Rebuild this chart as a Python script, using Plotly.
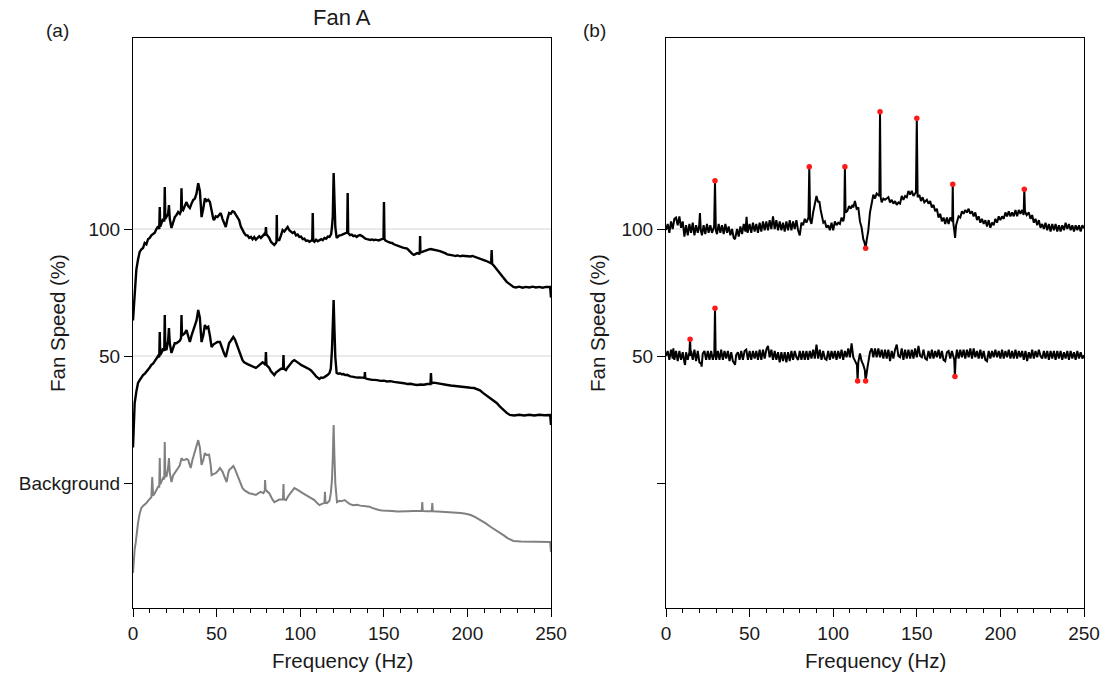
import plotly.graph_objects as go

# ---------------- data (frequency Hz, plotted value) ----------------
FAN100 = [
    (0, 64), (0.5, 70), (1, 76), (2, 84), (3, 88), (4, 91), (5, 92), (6, 92.5), (7, 94.5), (8, 94),
    (9, 96), (10, 96.5), (11, 97.5), (12, 98), (13, 98.5), (14, 100), (15, 101), (15.7, 100), (16, 108.7),
    (16.3, 101), (17, 102), (18, 104), (18.7, 103), (19, 116.5), (19.3, 104), (20, 104.7), (21, 106),
    (21.5, 109.4), (22, 104), (23, 100.4), (24, 103), (25, 104.7), (26, 105.5), (27, 106.7), (28, 106),
    (28.7, 107), (29, 116), (29.3, 108), (30, 107.5), (31, 109), (32, 110.6), (33, 109), (34, 108.3),
    (35, 110), (36, 111.4), (37, 112), (38, 114), (39, 118), (40, 115), (40.5, 110), (41, 104.7),
    (42, 108), (43, 112), (44, 111), (45, 111.5), (46, 110.6), (47, 107), (48, 104), (48.5, 103.5),
    (49.5, 105), (50.5, 104.7), (51.5, 105.5), (52.5, 106.3), (53.5, 104), (54.5, 102), (55.5, 100.8),
    (56.5, 104), (57.5, 106.3), (58.5, 106), (59.5, 107), (60.5, 106.7), (61.5, 105.5), (62.5, 104.5),
    (63.5, 103.5), (64.5, 101), (65.5, 99.5), (66.5, 98.4), (67.5, 97.5), (68.5, 97.5), (69.5, 96.5),
    (70.5, 96.9), (71.5, 96), (72.5, 96.8), (73.5, 95.8), (74.5, 96.5), (75.5, 97.2), (76.5, 96.5),
    (77.5, 97.2), (78.5, 98), (79.2, 97.5), (79.5, 100.8), (79.8, 98), (80.5, 97.5), (81.5, 96.5),
    (82.5, 95), (83.5, 94.5), (84.5, 93.7), (85.5, 94.5), (85.8, 95), (86, 105.5), (86.2, 95.5),
    (87, 95.7), (87.5, 95.7), (88.5, 97.5), (89.5, 99.6), (90.5, 99), (91.5, 100), (92.5, 100.8),
    (93.5, 99.5), (94.5, 99), (95.5, 98.4), (96.5, 98.8), (97.5, 97.5), (98.5, 97.8), (99.5, 96.9),
    (100.5, 97), (101.5, 96), (102.5, 96.2), (103.5, 95.3), (104.5, 95.5), (105.5, 95), (106.5, 95.4),
    (107.2, 95.5), (107.5, 106.3), (107.8, 95.4), (108.5, 95), (109.5, 95.8), (110.5, 95.2), (111.5, 95.7),
    (112.5, 96), (113.5, 95.6), (114.5, 96.5), (115.5, 96.2), (116.5, 97), (117.5, 96.9), (118.5, 98),
    (119, 100.8), (119.5, 105), (120, 122), (120.5, 106), (121, 100.8), (121.8, 96.5), (122.5, 97),
    (123.5, 97.5), (124.5, 97.6), (125.5, 98), (126.5, 98.2), (127.5, 98.5), (128.1, 98.6), (128.4, 114.2),
    (128.7, 98.4), (129.8, 97.6), (130.8, 97.8), (131.8, 97.2), (132.8, 97.4), (133.8, 96.9), (134.8, 97.4),
    (135.8, 97.6), (137, 97.2), (138, 96.5), (139, 96.2), (140, 96), (141, 95.8), (142, 95.7), (143, 95.9),
    (144, 95.6), (145, 95.8), (146, 95.7), (147, 95.5), (148, 95.8), (149, 96), (149.8, 96.2),
    (150.1, 110.6), (150.4, 96), (151, 95.5), (152, 95), (153, 94.8), (154, 94.6), (155, 94.5), (156, 94),
    (157, 93.7), (158, 93.5), (159, 93.2), (160, 93), (161, 92.8), (162, 92.6), (163, 92.5), (164, 92.3),
    (165, 91.6), (166, 90.8), (167, 90.2), (168, 89.8), (169, 90.2), (170, 90.5), (171, 90.3),
    (171.5, 90.4), (171.7, 97.2), (171.9, 90.8), (173, 91), (174, 91.3), (175, 91.7), (176, 91.9),
    (177, 92), (178, 92.1), (179, 92), (180, 92), (181, 91.8), (182, 91.6), (183, 91.4), (184, 91.2),
    (185, 91), (186, 90.8), (187, 90.4), (188, 90), (189, 89.8), (190, 89.6), (191, 89.4), (192, 89.5),
    (193, 89.4), (194, 89.6), (195, 89.4), (196, 89.3), (197, 89.5), (198, 89.4), (199, 89.5),
    (200, 89.3), (201, 89.4), (202, 89.2), (203, 89.4), (204, 89.2), (205, 89), (206, 88.8), (207, 88.6),
    (208, 88.4), (209, 88.2), (210, 87.8), (211, 87.5), (212, 87.2), (213, 87), (214.2, 86.5),
    (214.5, 91.7), (214.8, 86.3), (215.5, 85.8), (216.5, 85), (217.5, 84), (218.5, 83), (219.5, 82.3),
    (220.5, 81.5), (221.5, 80.7), (222.5, 80), (223.5, 79.2), (224.5, 78.7), (225.5, 78.2), (226.5, 77.7),
    (227.5, 77.2), (229, 77), (231, 77.3), (233, 76.9), (235, 77.2), (237, 77), (239, 77.3), (241, 77),
    (243, 77.2), (245, 76.9), (247, 77.2), (249.5, 77.2), (250, 73),
]

FAN50 = [
    (0, 14), (0.5, 22), (1, 31.5), (2, 36), (3, 39.4), (4, 40.5), (5, 41.7), (6, 42.5), (7, 43), (8, 43.7),
    (9, 44.5), (10, 45.5), (11, 46.5), (12, 47), (13, 48), (14, 49.2), (15, 50), (15.7, 49.5), (16, 59.4),
    (16.3, 50.5), (17, 51.2), (18, 53), (18.7, 52), (19, 66.1), (19.3, 53), (20, 52.4), (21, 56),
    (21.5, 61), (22, 55), (23, 51.2), (24, 53.5), (25, 55.1), (26, 55), (27, 55.5), (28, 56), (28.7, 57),
    (29, 66.1), (29.3, 58), (30, 58.3), (31, 59), (32, 60.2), (33, 58), (34, 55.5), (35, 58), (36, 60.2),
    (37, 62), (38, 64), (39, 68.1), (40, 65), (40.5, 60), (41, 55.5), (42, 58), (43, 62.2), (44, 61),
    (45, 61.5), (46, 58), (47, 53.5), (48, 54.5), (49.5, 55.1), (50.5, 55.5), (52, 55.5), (53.5, 52.4),
    (54.5, 51), (55.5, 49.6), (56.5, 53), (57.5, 55.1), (58.5, 56), (60, 57.5), (61, 56.5), (62.5, 53.5),
    (63.5, 51.5), (64.5, 49.5), (65.5, 48.4), (66.5, 47.5), (67.5, 47), (68.5, 46.8), (69.5, 46.5),
    (70.5, 46.2), (71.5, 45.8), (72.5, 45.5), (73.5, 45.3), (74.5, 45.8), (75.5, 46.5), (76.5, 47.2),
    (77.5, 47.5), (78.5, 47), (79.2, 46.5), (79.5, 51.6), (79.8, 46.5), (80.5, 46), (81.5, 45.3),
    (82.5, 44), (83.5, 43), (84.5, 42.5), (85.5, 43.5), (86.5, 44), (87.5, 44.5), (88.5, 45), (89.7, 45),
    (90, 50.4), (90.3, 45), (91.5, 44.5), (92.5, 45.5), (93.5, 46.5), (94.5, 47.5), (95.5, 48),
    (96.5, 48.4), (97.5, 47.8), (98.5, 47.2), (99.5, 47), (100.5, 46.5), (101.5, 46.2), (102.5, 45.8),
    (103.5, 45.6), (104.5, 45.3), (105.5, 44.8), (106.5, 44.3), (107.5, 43.7), (108.5, 42.8), (109.5, 42),
    (110.5, 41.3), (111.5, 41), (112.5, 41.5), (113.5, 41.4), (114.5, 41.7), (115.5, 42), (116.5, 42.6),
    (117.5, 43.3), (118.3, 45), (119, 52.4), (119.5, 60), (120, 72), (120.5, 60), (121, 49.6),
    (121.8, 43.3), (122.8, 43), (123.8, 43.2), (124.8, 42.8), (125.8, 42.9), (127, 42.5), (128, 42.6),
    (129, 42.2), (130, 42), (131, 41.9), (132, 41.7), (133, 41.8), (134, 41.5), (135, 41.6), (136, 41.4),
    (137, 41.5), (138.5, 41.4), (138.7, 43.7), (138.9, 41.3), (140, 41), (141, 40.8), (142, 40.7),
    (143, 40.6), (144, 40.6), (145, 40.4), (146, 40.5), (148, 40.2), (150, 40.3), (152, 40), (154, 40.1),
    (156, 39.8), (158, 39.7), (160, 39.4), (162, 39.3), (164, 39), (166, 39.1), (168, 38.8), (170, 38.6),
    (172, 38.8), (174, 38.7), (176, 39), (177.9, 39), (178.2, 43.3), (178.5, 39.2), (180, 39.5),
    (182, 39.2), (184, 39), (186, 38.8), (188, 38.6), (190, 38.4), (192, 38.2), (194, 38), (196, 37.8),
    (198, 37.7), (200, 37.6), (202, 37.5), (204, 37.4), (206, 37), (207.5, 36.5), (209.5, 35.4),
    (211.5, 34.4), (213.5, 33.5), (215.5, 32.5), (217.5, 31.5), (219.5, 30.1), (221.5, 28.7),
    (223.5, 27.6), (225.4, 26.8), (228, 26.6), (231, 26.9), (234, 26.6), (237, 26.9), (240, 26.6),
    (243, 26.9), (246, 26.7), (249.5, 26.8), (250, 22.8),
]

BACKGROUND = [
    (0, -35.4), (0.5, -30), (1, -26), (1.6, -23.6), (2.3, -19), (3, -15.7), (4, -12), (5, -9.8), (6, -9),
    (7, -8.5), (8, -7.9), (9, -7), (10, -6), (11, -5.5), (11.5, 2.4), (12, -5), (13, -4), (14, -2.5),
    (15, -1.5), (15.7, -1.5), (16, 9.8), (16.3, -0.5), (17, 0.4), (18, 2), (18.7, 1.5), (19, 16.1),
    (19.3, 3), (20, 2.4), (21, 6), (21.5, 9.8), (22, 4), (23, 0.4), (24, 3), (25, 4.3), (26, 5), (27, 5.9),
    (28, 7), (29, 9.8), (30, 9), (31, 9.1), (32, 9.5), (33, 9.1), (34.5, 5.9), (35.5, 9), (36.5, 11),
    (37.5, 13), (38.5, 15), (39, 16.9), (40, 14), (40.5, 10), (41, 7.1), (42, 9), (43, 11.8), (44, 11),
    (45.5, 11.2), (46.5, 7), (47, 3.1), (48, 3.5), (49.5, 3.9), (51, 5), (52, 5.9), (53.5, 4.5), (55, 2),
    (56, 0.4), (57, 4), (57.5, 5.1), (59, 6), (60, 6.7), (61, 5.5), (62.5, 3.1), (64, 0.5), (65.5, -2),
    (67, -3), (69.5, -4), (71.5, -4.3), (73.5, -4.7), (75, -4), (76.5, -3.5), (78, -4), (78.8, -3),
    (79, 1.2), (79.3, -2.5), (80.5, -3.5), (81.5, -4), (83, -6), (84.5, -7.5), (86, -7), (87.5, -6.5),
    (89.7, -6.5), (90, -0.4), (90.3, -6.5), (91.5, -6.7), (93, -5), (95, -3), (96.5, -2), (98, -2.5),
    (100, -3.5), (101.5, -4), (103.5, -4.8), (105.5, -5.5), (107, -6), (108.5, -6.7), (110, -7.8),
    (111.5, -8.7), (113, -8.2), (114.5, -7.9), (114.8, -3.5), (115.1, -7.8), (116, -7.9), (117.5, -7),
    (118.3, -4), (119, 1.2), (119.5, 10), (120, 22.8), (120.5, 10), (121, 0), (122, -7.5), (123.5, -7),
    (124.5, -7.2), (126.6, -6.7), (128, -7.5), (129.5, -8.2), (131.6, -8.7), (134, -8.6), (136, -8.9),
    (138, -9), (139.5, -9.1), (141.5, -9.3), (143, -9.8), (144.5, -10.2), (147, -10.6), (149, -10.8),
    (151.5, -11), (155, -11), (158, -11.2), (161.5, -11), (164, -11.1), (167.5, -11), (170, -11.1),
    (172.7, -11), (173, -7.5), (173.3, -11), (176, -11.1), (178.7, -11), (179, -7.9), (179.3, -11.1),
    (182, -11.2), (185, -11.3), (188, -11.4), (192, -11.6), (196, -11.8), (199, -12.1), (202, -12.6),
    (205, -13.5), (208, -14.6), (211, -15.9), (214, -17.3), (217, -18.5), (220, -19.7), (222, -20.7),
    (224, -21.7), (226, -22.4), (227.5, -22.8), (232, -23), (236, -23.1), (240, -23), (245, -23.1),
    (249.5, -23.2), (250, -27.2),
]

DIFF100 = [
    (0, 99.6), (1, 102), (2, 98.5), (3, 103), (4, 100), (5, 104), (6, 104.5), (7, 101.5), (8, 105),
    (9, 100.5), (10, 103), (11, 97), (12, 101.5), (13, 97.5), (14, 102), (15, 98.5), (16, 102.5),
    (17, 97.5), (18, 101.5), (19, 98.5), (19.8, 101), (20.3, 106.3), (20.8, 99.5), (21.5, 97.5),
    (22.5, 101.5), (23.5, 98), (24.5, 102), (25.5, 98.5), (26.5, 101.5), (27.5, 98.5), (28.8, 101),
    (29.3, 119), (29.8, 99.5), (30.5, 98), (31.5, 102), (32.5, 98.5), (33.5, 101.5), (34.5, 98),
    (35.5, 102), (36.5, 98.5), (37.5, 101), (38.5, 97.5), (39.5, 100), (40.5, 96.5), (41.3, 96),
    (42.5, 100), (43.5, 97), (44.5, 101), (45.5, 98), (46.5, 102), (47.5, 99), (48.2, 104.8), (48.8, 98.5),
    (50, 102), (51, 98.5), (52, 102.5), (53, 99), (54, 102), (55, 98.5), (56, 102.5), (57, 99), (58, 103),
    (59, 99.5), (60, 103), (61, 99.5), (62, 103.5), (63, 100), (64, 105), (65, 100), (66, 103.5),
    (67, 99.5), (68, 103), (69, 99.5), (70, 102.5), (71, 99), (72, 103), (73, 99.5), (74, 103.5),
    (75, 99.5), (76, 103), (77, 100), (78, 103.5), (79, 99.5), (80, 97.5), (81, 102.5), (82, 101.5),
    (83, 104), (84, 102.5), (85.2, 104.5), (85.7, 124.5), (86.2, 103.5), (87, 102), (88, 106.5),
    (89, 110), (90, 113), (91, 110.5), (91.7, 111), (92.5, 107.5), (93.3, 105.5), (94.1, 102.5),
    (95, 103), (96, 100.5), (97, 101.5), (98, 99.5), (99, 102.5), (100, 99.5), (101, 103), (102, 101.5),
    (103, 102.5), (104, 102), (105, 104.5), (106, 103), (106.6, 105), (107, 124.5), (107.4, 106.5),
    (108.4, 107), (109.5, 109), (110.5, 108), (111.5, 109.5), (112, 108.5), (113, 111), (114, 108),
    (115, 108.5), (116, 103), (117, 100.5), (118, 96), (118.8, 94.5), (119.4, 92.4), (120, 95.5),
    (121, 99.5), (122, 106.5), (123, 110.5), (124, 113.5), (125, 112), (126, 114), (127.6, 113),
    (128, 146.2), (128.4, 112.5), (129, 110.5), (130, 112), (131, 111.5), (132, 112), (133, 112.5),
    (134, 110.5), (135, 111.5), (136, 110), (137, 111), (138, 109.5), (139, 110.5), (140, 110),
    (141, 113), (142, 111.5), (143, 113), (144, 112.5), (145, 115), (146, 113.5), (147, 115), (148, 113),
    (149.5, 114.5), (150, 143.6), (150.5, 112.5), (151.5, 113.5), (152.5, 111), (153.5, 112.5),
    (154.5, 110.5), (156, 111.5), (157, 110), (158, 111), (159, 108.5), (160, 109.5), (161, 107),
    (162, 108), (163, 104.5), (164, 106), (165, 103), (166, 104.5), (167, 102), (168, 104.5), (169, 102),
    (170, 104.5), (171.2, 103), (171.5, 117.6), (171.8, 102.5), (172.5, 99), (172.9, 96.5), (173.5, 101.5),
    (174, 102.5), (175, 105), (176, 104.5), (177, 107), (178, 106), (179, 107.5), (180, 106.5), (181, 108),
    (182, 106), (183, 107), (184, 105), (185, 106.5), (186, 103.5), (187, 105), (188, 102.5), (189, 104),
    (190, 102), (191, 103.5), (192, 101), (193, 103.5), (194, 100.5), (195, 102.5), (196, 101.5),
    (197, 104), (198, 102.5), (199, 105), (200, 103.5), (201, 105), (202, 104), (203, 106.5), (204, 105),
    (205, 107), (206, 105), (207, 106.5), (208, 105), (209, 107.5), (210, 105), (211, 107.5), (212, 106),
    (213, 107.5), (213.9, 105.5), (214.3, 115.7), (214.7, 107), (215.7, 105.5), (217, 106.5), (218, 104),
    (219, 105.5), (220, 102.5), (221, 104), (222, 101.5), (223, 103.5), (224, 100.5), (225, 102),
    (226, 100), (227, 102.5), (228, 99.5), (229, 102), (230, 99), (231, 102), (232, 99.5), (233, 102),
    (234, 99), (235, 101.5), (236, 99), (237, 101.5), (238, 99.5), (239, 102.5), (240, 100), (241, 102),
    (242, 99.5), (243, 101.5), (244, 99), (245, 101.5), (246, 99.5), (247, 101.5), (248, 99),
    (249, 101.5), (250, 100.3),
]

DIFF50 = [
    (0, 50), (1, 52), (2, 48.5), (3, 52.5), (4, 49), (4.4, 53), (5, 48.5), (6, 52), (7, 48), (8, 52),
    (9, 48.5), (10, 51.5), (11, 47.5), (11.4, 46.5), (12, 51.5), (13, 48.5), (14, 51.5), (14.4, 56.6),
    (14.8, 50), (15, 52), (16, 48.5), (17, 52.5), (18, 48), (19, 52), (20, 47.5), (21, 47), (21.3, 45.8),
    (22, 51), (23, 52), (24, 48.5), (25, 52), (26, 48.5), (27, 52), (28, 48.5), (28.9, 51), (29.3, 68.8),
    (29.7, 50), (30, 48.5), (31, 52), (32, 48.5), (33, 52.5), (34, 48.5), (35, 52), (36, 49), (37, 52),
    (38, 48), (39, 51.5), (40, 48), (41, 47), (41.3, 46.5), (42, 50.5), (43, 51.5), (44, 48.5), (45, 52),
    (46, 48.5), (47, 52), (48, 52.5), (49, 48.5), (50, 52), (51, 48.5), (52, 52), (53, 49), (54, 52),
    (55, 48.5), (56, 52.5), (57, 48.5), (58, 52.5), (59, 49), (60, 52.5), (61, 54), (62, 49.5),
    (63, 52.5), (64, 48.5), (65, 52), (66, 48.5), (67, 51.5), (68, 47.5), (69, 51.5), (70, 48),
    (71, 51.5), (72, 47.5), (73, 51.5), (74, 48), (75, 52), (76, 48.5), (77, 52), (78, 49.5), (79, 48.5),
    (80, 52), (81, 48.5), (82, 52), (83, 48.5), (84, 52), (85, 48.5), (86, 52), (87, 49), (88, 52.5),
    (89, 49), (90, 54.5), (91, 49), (92, 52.5), (93, 48.5), (94, 52), (95, 49), (96, 48.5), (97, 52),
    (98, 48.5), (99, 52), (100, 49), (101, 52), (102, 48.5), (103, 52), (104, 49), (105, 52.5),
    (106, 48.5), (107, 52), (108, 49.5), (109, 53), (110, 49.5), (111, 55), (112, 49.5), (113, 48),
    (114.2, 46.5), (114.6, 40.2), (115, 47.5), (116, 51), (117, 48), (118, 46.5), (118.9, 44.5),
    (119.4, 40.2), (119.9, 43.5), (120.5, 45.5), (121, 47.5), (122, 51.5), (123, 53), (124, 49.5),
    (125, 53), (126, 49.5), (127, 53), (128, 49.5), (129, 52.5), (130, 49), (131, 52.5), (132, 49),
    (133, 52.5), (134, 48), (135, 52), (136, 49), (137, 52.5), (138, 54.5), (139, 50), (140, 49.5),
    (141, 53), (142, 48.5), (143, 52.5), (144, 49), (145, 52.5), (146, 49), (147, 52.5), (148, 49),
    (149, 53), (150, 49.5), (151, 54), (152, 50), (153, 49.5), (154, 52.5), (155, 49), (156, 48.5),
    (157, 52), (158, 49), (159, 52.5), (160, 49), (161, 52), (162, 49.5), (163, 52.5), (164, 49),
    (165, 52), (166, 48.5), (167, 48), (168, 51.5), (169, 52), (170, 49), (171, 52), (172.4, 48.5),
    (172.8, 41.9), (173.2, 48.5), (174, 52.5), (175, 49), (176, 52.5), (177, 49.5), (178, 52.5),
    (179, 49), (180, 52.5), (181, 49.5), (182, 53), (183, 49), (184, 53), (185, 49.5), (186, 52),
    (187, 49), (188, 52.5), (189, 49), (190, 52), (191, 48.5), (192, 48), (193, 52), (194, 49),
    (195, 52), (196, 49.5), (197, 52.5), (198, 49.5), (199, 52), (200, 49), (201, 52.5), (202, 49),
    (203, 52), (204, 49.5), (205, 52.5), (206, 49), (207, 52), (208, 49), (209, 52.5), (210, 49),
    (211, 52), (212, 49.5), (213, 52), (214, 48.5), (215, 52), (216, 48), (217, 51.5), (218, 49),
    (219, 52.5), (220, 49), (221, 52), (222, 49.5), (223, 52.5), (224, 50), (225, 49), (226, 52),
    (227, 49), (228, 52), (229, 48.5), (230, 52), (231, 49), (232, 52), (233, 48.5), (234, 52), (235, 49),
    (236, 52), (237, 48.5), (238, 51.5), (239, 49), (240, 52), (241, 48.5), (242, 52), (243, 49),
    (244, 51.5), (245, 48.5), (246, 52), (247, 49), (248, 51.5), (249, 49), (250, 50.3),
]

PEAKS_F = [29.3, 85.7, 107, 119.4, 128, 150, 171.5, 214.3, 14.4, 29.3, 114.6, 119.4, 172.8]
PEAKS_V = [119, 124.5, 124.5, 92.4, 146.2, 143.6, 117.6, 115.7, 56.6, 68.8, 40.2, 40.2, 41.9]

X_TICKS = [0, 50, 100, 150, 200, 250]
Y_TICKS = [0, 50, 100]
Y_LABELS_A = ["Background", "50", "100"]
Y_LABELS_B = ["", "50", "100"]


def split(pairs):
    return [p[0] for p in pairs], [p[1] for p in pairs]


FONT = "Liberation Sans, Arial, Helvetica, sans-serif"
TXT = "#1a1a1a"
fig = go.Figure()

for pairs, color, width in [(FAN100, "black", 2.4), (FAN50, "black", 2.4), (BACKGROUND, "#808080", 2)]:
    xs, ys = split(pairs)
    fig.add_trace(go.Scatter(x=xs, y=ys, mode="lines", line=dict(color=color, width=width),
                             xaxis="x", yaxis="y", showlegend=False))

for pairs in [DIFF100, DIFF50]:
    xs, ys = split(pairs)
    fig.add_trace(go.Scatter(x=xs, y=ys, mode="lines", line=dict(color="black", width=2),
                             xaxis="x2", yaxis="y2", showlegend=False))

fig.add_trace(go.Scatter(x=PEAKS_F, y=PEAKS_V, mode="markers",
                         marker=dict(color="#ff1a1a", size=5.5), xaxis="x2", yaxis="y2", showlegend=False))

YR = [-49.2, 175.2]
XD1 = [133 / 1107, 551 / 1107]
XD2 = [666 / 1107, 1084 / 1107]
YD = [(677 - 608) / 677, (677 - 38) / 677]

xcommon = dict(range=[0, 250], tickvals=X_TICKS, ticks="outside", ticklen=8, tickwidth=1,
               tickcolor="black", showline=True, linecolor="black", linewidth=1, mirror=True,
               showgrid=False, zeroline=False, automargin=False,
               tickfont=dict(size=19, color=TXT, family=FONT),
               minor=dict(dtick=10, tick0=0, ticks="outside", ticklen=4, tickcolor="black", showgrid=False))
ycommon = dict(range=YR, tickvals=Y_TICKS, ticks="outside", ticklen=8, tickwidth=1, tickcolor="black",
               showline=True, linecolor="black", linewidth=1, mirror=True, showgrid=False,
               zeroline=False, automargin=False, tickfont=dict(size=19, color=TXT, family=FONT))

fig.update_layout(
    template="none",
    width=1107, height=677, margin=dict(l=0, r=0, t=0, b=0, autoexpand=False),
    paper_bgcolor="white", plot_bgcolor="white",
    font=dict(family=FONT, color=TXT),
    xaxis=dict(domain=XD1, anchor="y", **xcommon),
    yaxis=dict(domain=YD, anchor="x", ticktext=Y_LABELS_A, **ycommon),
    xaxis2=dict(domain=XD2, anchor="y2", **xcommon),
    yaxis2=dict(domain=YD, anchor="x2", ticktext=Y_LABELS_B, **ycommon),
)

# light grid lines at 50 and 100
for xr, yr in [("x", "y"), ("x2", "y2")]:
    for yv in [50, 100]:
        fig.add_shape(type="line", xref=xr + " domain", yref=yr, x0=0, x1=1, y0=yv, y1=yv,
                      line=dict(color="#e3e3e3", width=1.5), layer="below")


def px_x(p):
    return p / 1107


def px_y(p):
    return 1 - p / 677


ann = [
    dict(text="Fan A", x=px_x(342), y=px_y(18), size=22, angle=0),
    dict(text="(a)", x=px_x(57), y=px_y(31), size=19, angle=0),
    dict(text="(b)", x=px_x(594), y=px_y(31), size=19, angle=0),
    dict(text="Frequency (Hz)", x=px_x(342), y=px_y(660), size=20.5, angle=0),
    dict(text="Frequency (Hz)", x=px_x(875), y=px_y(660), size=20.5, angle=0),
    dict(text="Fan Speed (%)", x=px_x(57), y=px_y(323), size=20.5, angle=-90),
    dict(text="Fan Speed (%)", x=px_x(597), y=px_y(323), size=20.5, angle=-90),
]
for a in ann:
    fig.add_annotation(text=a["text"], x=a["x"], y=a["y"], xref="paper", yref="paper",
                       showarrow=False, textangle=a["angle"], xanchor="center", yanchor="middle",
                       font=dict(size=a["size"], color=TXT, family=FONT))

fig.write_html("out.html")
